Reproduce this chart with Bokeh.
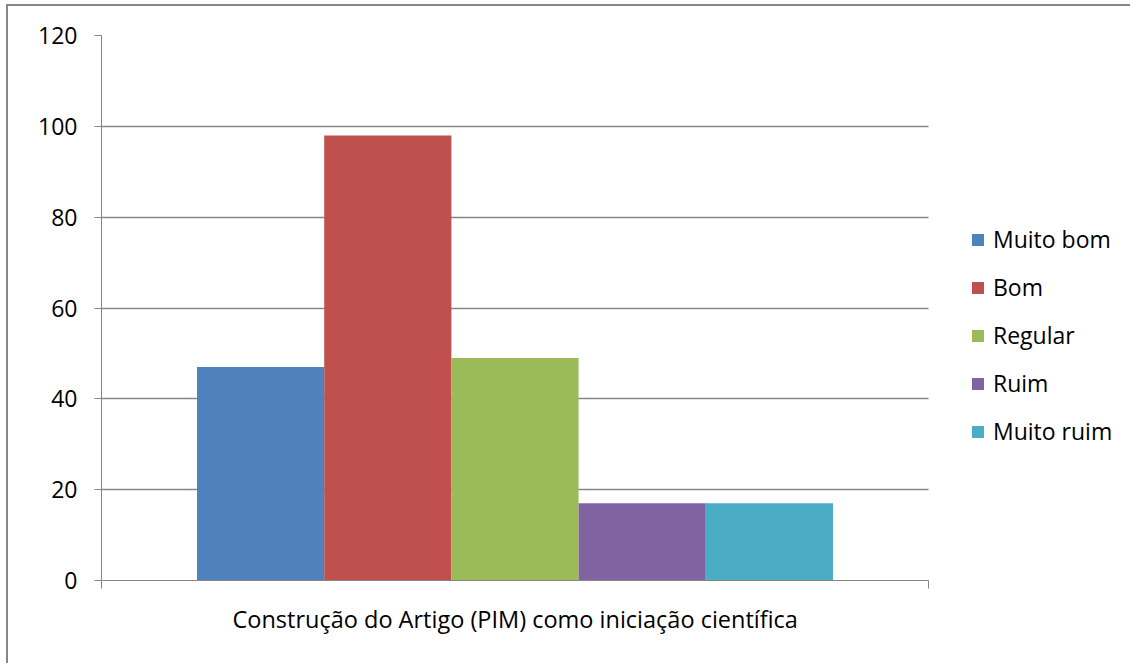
from bokeh.plotting import figure
from bokeh.models import ColumnDataSource, FixedTicker, Legend, LegendItem, Range1d, Title
from bokeh.embed import file_html
from bokeh.resources import INLINE

category = "Construção do Artigo (PIM) como iniciação científica"
series = ["Muito bom", "Bom", "Regular", "Ruim", "Muito ruim"]
values = [47, 98, 49, 17, 17]
colors = ["#4F81BD", "#C0504D", "#9BBB59", "#8064A2", "#4BACC6"]
y_ticks = [0, 20, 40, 60, 80, 100, 120]

FONT = "Open Sans"
GRAY = "#868686"

bar_w = 0.1538
n = len(series)
xs = [0.5 + (i - (n - 1) / 2) * bar_w for i in range(n)]

W, H = 1124, 659
MBL, MBR, MBT, MBB = 93, 7, 29, 85
plot_px = 827  # width of the category area (x from 0 to 1)
frame_w = W - MBL - MBR
x_end = frame_w / plot_px

p = figure(width=W, height=H, output_backend="svg", toolbar_location=None,
           x_range=Range1d(0, x_end), y_range=Range1d(0, 120),
           min_border_left=MBL, min_border_right=MBR, min_border_top=MBT, min_border_bottom=MBB)
p.styles = {"border-left": f"2px solid {GRAY}", "border-top": f"2px solid {GRAY}",
            "margin-left": "6px", "margin-top": "4px", "box-sizing": "border-box"}
p.outline_line_color = None
p.background_fill_color = "white"
p.border_fill_color = "white"

items = []
for i, name in enumerate(series):
    src = ColumnDataSource(dict(x=[xs[i]], top=[values[i]]))
    r = p.vbar(x="x", top="top", bottom=0, width=bar_w, source=src,
               fill_color=colors[i], line_color=None)
    items.append(LegendItem(label=name, renderers=[r]))

# y axis
p.yaxis.ticker = FixedTicker(ticks=y_ticks)
p.yaxis.axis_line_color = GRAY
p.yaxis.axis_line_width = 1
p.yaxis.major_tick_line_color = GRAY
p.yaxis.major_tick_out = 7
p.yaxis.major_tick_in = 0
p.yaxis.minor_tick_line_color = None
p.yaxis.major_label_text_font = FONT
p.yaxis.major_label_text_font_size = "23px"
p.yaxis.major_label_text_color = "black"
p.yaxis.major_label_standoff = 17

# x axis
p.xaxis.ticker = FixedTicker(ticks=[0, 1])
p.xaxis.bounds = (0, 1)
p.xaxis.major_label_overrides = {0: " ", 1: " "}
p.xaxis.major_label_text_font_size = "1px"
p.xaxis.major_label_standoff = 6
p.xaxis.axis_line_color = GRAY
p.xaxis.major_tick_line_color = GRAY
p.xaxis.major_tick_out = 8
p.xaxis.major_tick_in = 0
p.xaxis.minor_tick_line_color = None

# category name below the axis, centred on the category area
cat_title = Title(text=category, align="left", offset=131,
                  text_font=FONT, text_font_size="23.5px", text_font_style="normal",
                  text_color="black", standoff=4)
p.add_layout(cat_title, "below")

p.xgrid.grid_line_color = None
p.ygrid.grid_line_color = GRAY
p.ygrid.grid_line_width = 1.5
p.ygrid.ticker = FixedTicker(ticks=y_ticks)
p.ygrid.cross_bounds = (0, 1)

legend = Legend(items=items, location=(869, 133), orientation="vertical",
                glyph_width=15, glyph_height=15, label_height=24, spacing=16,
                label_standoff=8, padding=0, margin=0,
                border_line_color=None, background_fill_alpha=0,
                label_text_font=FONT, label_text_font_size="23px",
                label_text_color="black")
p.add_layout(legend, "center")

open("out.html", "w").write(file_html(p, INLINE))
